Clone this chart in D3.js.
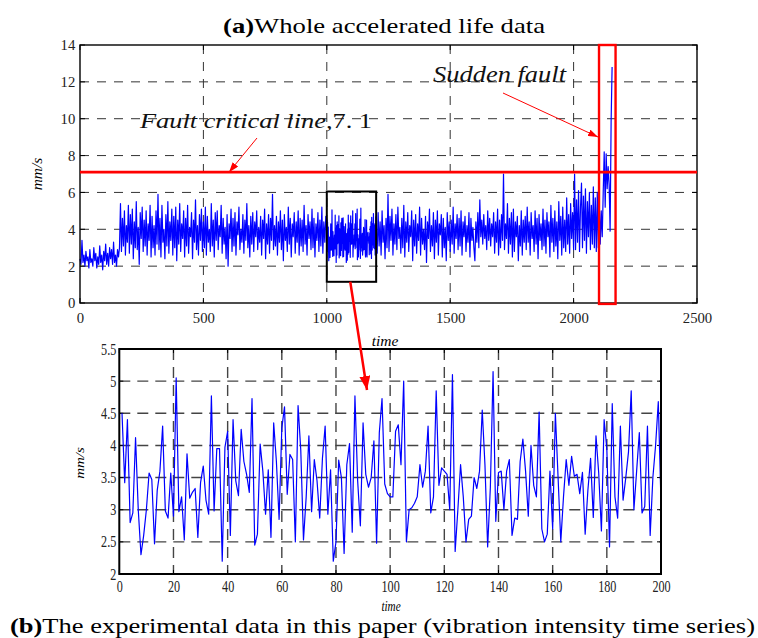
<!DOCTYPE html>
<html>
<head>
<meta charset="utf-8">
<script src="https://cdn.jsdelivr.net/npm/d3@7"></script>
<style>
html,body{margin:0;padding:0;background:#fff;}
svg{display:block;}
</style>
</head>
<body>
<script>
// ---------------- DATA ----------------
// Whole accelerated life data (panel a), every 4 time units
const wholeEarly = [ // t = 0 .. 996 step 4
  2.4,2.1,3.4,2.2,2.6,2.0,2.8,2.3,2.5,1.9,2.9,2.2,2.4,2.0,3.0,2.3,2.7,1.9,2.5,2.1,3.1,2.2,2.6,1.8,2.8,
  2.3,3.2,2.1,2.7,2.0,3.0,2.4,2.9,2.1,3.3,2.2,2.6,2.0,2.9,2.5,3.0,5.4,2.8,4.6,3.1,5.0,2.6,4.2,3.3,5.3,
  2.7,4.8,3.2,5.1,2.4,4.4,3.0,5.5,2.9,4.1,2.1,4.9,3.5,5.2,2.8,4.5,3.1,5.0,2.6,4.3,3.4,5.3,2.5,4.7,3.0,
  4.2,2.6,5.0,3.2,5.9,2.9,4.6,2.5,5.3,3.3,4.0,2.4,4.8,3.1,5.5,2.7,4.4,3.4,5.1,2.6,4.7,3.0,5.2,2.3,4.5,
  3.2,5.4,2.8,4.3,3.5,5.0,2.5,4.6,3.1,5.3,2.7,4.1,3.6,4.9,2.4,4.5,3.3,5.6,2.9,4.2,2.6,4.8,3.4,5.1,2.8,
  4.4,3.0,5.2,2.6,4.7,3.3,4.0,2.8,5.4,3.1,4.5,2.5,4.9,3.4,5.0,2.9,4.2,3.6,5.3,2.7,4.6,3.2,4.1,2.4,4.8,
  2.0,4.3,3.5,5.1,2.8,4.6,3.1,4.9,2.6,4.4,3.7,5.2,2.9,4.0,3.3,4.8,2.7,4.5,3.4,5.4,3.0,4.2,2.5,4.7,3.2,
  4.9,2.8,4.4,3.6,5.0,2.9,4.1,3.3,4.7,2.6,4.5,3.5,5.1,2.4,4.3,3.2,4.8,2.7,4.6,3.4,5.9,2.9,4.2,3.1,4.7,
  2.6,4.4,3.3,5.0,2.9,4.5,2.3,4.8,3.4,4.1,2.8,5.2,3.2,4.6,2.5,4.3,3.6,4.9,2.7,4.4,3.3,5.0,2.6,4.6,3.1,
  4.5,2.8,5.3,3.2,4.2,2.6,4.8,3.5,4.4,2.9,5.1,3.0,4.6,2.5,4.3,3.4,4.9,2.8,4.5,3.1,5.2,2.7,4.4,3.3,4.7
];
const wholeLate = [ // t = 1204 .. 2100 step 4
  2.7,4.9,3.1,4.4,2.6,5.0,3.3,4.2,2.4,4.6,3.0,5.9,2.8,4.7,3.4,5.1,2.6,4.3,3.2,4.8,2.9,5.2,3.5,4.1,2.7,
  4.6,3.0,5.3,2.5,4.4,3.3,4.9,2.8,4.2,3.6,5.0,2.3,4.5,3.1,4.8,2.7,4.3,3.4,5.2,2.6,4.6,3.2,4.0,2.9,4.7,
  2.2,4.4,3.5,5.1,2.8,4.2,3.1,4.9,2.4,4.5,3.3,5.0,2.6,4.3,3.7,4.8,2.5,4.6,3.0,4.1,2.3,4.9,3.4,4.4,2.8,
  4.5,3.2,5.2,2.7,4.3,3.5,4.8,2.9,4.6,3.1,5.0,2.6,4.4,3.6,4.7,2.8,4.2,3.3,4.9,2.5,4.6,3.4,4.1,3.0,2.3,
  4.4,3.3,4.9,3.0,5.6,3.6,4.5,3.2,4.8,3.5,4.2,2.9,5.0,3.4,4.6,3.1,4.3,3.6,4.9,2.7,4.4,3.3,5.1,2.6,4.5,
  3.0,4.8,3.4,7.0,2.9,4.3,3.5,5.4,2.7,4.6,3.2,4.9,2.5,5.1,2.8,4.4,3.6,4.7,2.3,4.2,3.1,5.0,2.6,4.5,3.3,
  4.7,2.9,5.2,3.3,4.4,2.6,4.9,3.5,4.2,2.8,5.0,3.2,4.6,2.4,4.8,3.4,4.3,2.9,5.1,3.1,4.5,2.7,4.9,3.6,4.4,
  2.5,5.3,3.3,4.6,2.8,5.0,3.1,4.4,2.4,5.5,3.4,4.7,2.6,5.2,3.0,4.5,2.8,5.7,3.2,4.8,2.7,5.4,3.5,4.9,2.9,
  7.0,2.9,5.6,3.3,6.1,2.8,5.2,6.5,3.0,5.8,3.4,6.2,2.7,5.5,3.6,6.0,2.9,5.3,3.2,6.3,3.0,5.7,2.8,6.0,3.0
];
const faultValues = [5.4,3.2,5.0,3.6,6.0,8.2,5.2,8.1,6.2,7.4,6.4,3.9,9.8,12.8]; // t = 2104 .. 2156 step 4

// Panel b: the 200-point excerpt (time 1..200, i.e. t = 1001..1200 of the whole series)
const detailValues = [
  4.5,3.42,4.4,2.8,2.95,4.12,3.0,2.3,2.6,3.0,
  3.57,3.47,2.47,3.3,3.6,4.3,2.98,2.87,3.57,2.9,
  5.05,2.97,3.2,2.53,3.87,3.18,3.27,3.33,2.57,3.42,
  3.68,3.15,2.93,4.77,2.98,3.95,3.95,2.2,3.97,4.22,
  2.6,4.4,3.45,3.22,4.25,3.75,3.55,3.27,4.73,2.45,
  2.62,4.02,3.6,2.93,3.62,2.57,4.35,3.75,2.85,4.27,
  4.6,3.24,3.86,3.78,2.5,4.62,3.93,2.53,3.2,4.15,
  2.97,3.78,3.45,2.87,3.8,4.3,2.93,3.62,2.2,2.5,
  3.77,3.5,2.32,3.7,4.03,2.65,4.77,3.45,2.75,4.35,
  3.55,3.35,3.5,4.07,2.48,4.2,4.73,3.4,3.25,3.2,
  3.2,4.22,4.32,3.7,5.0,2.5,3.0,3.03,3.1,3.2,
  3.7,3.35,3.6,4.3,2.95,3.2,4.85,3.38,3.65,3.6,
  3.55,3.0,5.1,2.35,3.0,3.7,3.2,2.5,2.85,2.9,
  3.5,3.33,3.6,4.55,3.7,2.42,3.35,5.15,2.82,3.58,
  3.6,3.0,3.6,3.78,2.6,2.87,2.85,3.75,4.1,3.6,
  2.9,4.0,3.38,3.2,4.52,2.7,2.5,2.62,3.6,2.7,
  4.5,3.5,2.5,3.2,3.78,3.38,3.83,3.52,3.55,3.25,
  3.58,2.62,3.3,3.8,2.88,4.15,3.57,2.67,4.4,3.95,
  2.42,4.65,3.2,2.87,4.3,3.15,3.5,3.9,4.85,3.0,
  3.6,4.2,2.95,3.05,4.3,2.6,3.5,4.0,4.68,3.1
];

const faultCritical = 7.1;
const zoomWindow = {t0: 1000, t1: 1200, v0: 1.15, v1: 6.05};
const faultWindow = {t0: 2103, t1: 2170, v0: -0.05, v1: 14};

const topXTicks = [0,500,1000,1500,2000,2500];
const topYTicks = [0,2,4,6,8,10,12,14];
const botXTicks = [0,20,40,60,80,100,120,140,160,180,200];
const botYTicks = [2,2.5,3,3.5,4,4.5,5,5.5];

const titleA = ["(a)", "Whole accelerated life data"];
const titleB = ["(b)", "The experimental data in this paper (vibration intensity time series)"];
const xLabel = "time", yLabel = "mm/s";
const faultLabel = ["Fault critical line,", "7. 1"];
const suddenLabel = "Sudden fault";

// ------------- BUILD SERIES -------------
const wholeSeries = [];
wholeEarly.forEach((v,i) => wholeSeries.push([i*4, v]));
detailValues.forEach((v,i) => wholeSeries.push([1001+i, v]));
wholeLate.forEach((v,i) => wholeSeries.push([1204+i*4, v]));
faultValues.forEach((v,i) => wholeSeries.push([2104+i*4, v]));
const detailSeries = detailValues.map((v,i) => [i+1, v]);

// ------------- DRAW -------------
const W = 758, H = 638;
const SERIF = "Liberation Serif, Times New Roman, DejaVu Serif, serif";
const svg = d3.select("body").append("svg").attr("width", W).attr("height", H)
  .style("font-family", SERIF);
svg.append("rect").attr("width", W).attr("height", H).attr("fill", "#fff");

const defs = svg.append("defs");
function marker(id, len, wid) {
  defs.append("marker").attr("id", id).attr("markerUnits", "userSpaceOnUse")
    .attr("markerWidth", len).attr("markerHeight", wid)
    .attr("refX", len).attr("refY", wid/2).attr("orient", "auto")
    .append("path").attr("d", `M0,0L${len},${wid/2}L0,${wid}Z`).attr("fill", "#ff0000");
}
marker("arrS", 10, 7);
marker("arrB", 14, 11);

function panel(cfg) {
  const x = d3.scaleLinear().domain(cfg.xDomain).range([cfg.left, cfg.right]);
  const y = d3.scaleLinear().domain(cfg.yDomain).range([cfg.bottom, cfg.top]);
  const g = svg.append("g");
  g.append("g").selectAll("line").data(cfg.xTicks.slice(1, -1)).join("line")
    .attr("x1", d => x(d)).attr("x2", d => x(d)).attr("y1", cfg.top).attr("y2", cfg.bottom)
    .attr("stroke", cfg.gridColor).attr("stroke-width", cfg.gridWidth).attr("stroke-dasharray", cfg.dash);
  g.append("g").selectAll("line").data(cfg.yTicks.slice(1, -1)).join("line")
    .attr("y1", d => y(d)).attr("y2", d => y(d)).attr("x1", cfg.left).attr("x2", cfg.right)
    .attr("stroke", cfg.gridColor).attr("stroke-width", cfg.gridWidth).attr("stroke-dasharray", cfg.dash);
  const tk = cfg.tickLen;
  const tg = g.append("g").attr("stroke", "#000").attr("stroke-width", 1);
  cfg.xTicks.forEach(d => {
    tg.append("line").attr("x1", x(d)).attr("x2", x(d)).attr("y1", cfg.bottom).attr("y2", cfg.bottom - tk);
    tg.append("line").attr("x1", x(d)).attr("x2", x(d)).attr("y1", cfg.top).attr("y2", cfg.top + tk);
  });
  cfg.yTicks.forEach(d => {
    tg.append("line").attr("y1", y(d)).attr("y2", y(d)).attr("x1", cfg.left).attr("x2", cfg.left + tk);
    tg.append("line").attr("y1", y(d)).attr("y2", y(d)).attr("x1", cfg.right).attr("x2", cfg.right - tk);
  });
  g.append("path").datum(cfg.series)
    .attr("d", d3.line().x(d => x(d[0])).y(d => y(d[1])))
    .attr("fill", "none").attr("stroke", "#0000ff").attr("stroke-width", cfg.lineWidth)
    .attr("stroke-linejoin", "round");
  g.append("rect").attr("x", cfg.left).attr("y", cfg.top)
    .attr("width", cfg.right - cfg.left).attr("height", cfg.bottom - cfg.top)
    .attr("fill", "none").attr("stroke", "#000").attr("stroke-width", cfg.frameWidth);
  const fmt = d3.format("~g");
  const ax = g.append("g").attr("transform", `translate(0,${cfg.bottom})`)
    .call(d3.axisBottom(x).tickValues(cfg.xTicks).tickSize(0).tickPadding(cfg.xPad).tickFormat(fmt));
  const ay = g.append("g").attr("transform", `translate(${cfg.left},0)`)
    .call(d3.axisLeft(y).tickValues(cfg.yTicks).tickSize(0).tickPadding(cfg.yPad).tickFormat(fmt));
  [ax, ay].forEach(a => {
    a.attr("font-family", null).attr("font-size", null);
    a.select(".domain").remove();
    a.selectAll("text").style("font-family", SERIF).attr("font-size", cfg.tickFont).attr("fill", "#222")
      .attr("transform", cfg.textScale ? `scale(${cfg.textScale},1)` : null);
  });
  return {x, y, g};
}

// Panel (a)
const A = panel({
  left: 80, right: 697, top: 45, bottom: 303,
  xDomain: [0, 2500], yDomain: [0, 14], xTicks: topXTicks, yTicks: topYTicks,
  series: wholeSeries, lineWidth: 1.2, frameWidth: 1.4, tickLen: 5,
  gridColor: "#333", gridWidth: 1, dash: "9,8",
  tickFont: 15.5, xPad: 9, yPad: 5, textScale: 0.95
});
svg.append("line").attr("x1", A.x(0)).attr("x2", A.x(2500))
  .attr("y1", A.y(faultCritical)).attr("y2", A.y(faultCritical))
  .attr("stroke", "#ff0000").attr("stroke-width", 2.6);
svg.append("rect").attr("x", A.x(zoomWindow.t0)).attr("y", A.y(zoomWindow.v1))
  .attr("width", A.x(zoomWindow.t1) - A.x(zoomWindow.t0))
  .attr("height", A.y(zoomWindow.v0) - A.y(zoomWindow.v1))
  .attr("fill", "none").attr("stroke", "#000").attr("stroke-width", 2);
svg.append("rect").attr("x", A.x(faultWindow.t0)).attr("y", A.y(faultWindow.v1))
  .attr("width", A.x(faultWindow.t1) - A.x(faultWindow.t0))
  .attr("height", A.y(faultWindow.v0) - A.y(faultWindow.v1))
  .attr("fill", "none").attr("stroke", "#ff0000").attr("stroke-width", 2.4);

const tA = svg.append("text").attr("x", 223).attr("y", 33).attr("font-size", 21)
  .attr("textLength", 322).attr("lengthAdjust", "spacingAndGlyphs").attr("fill", "#000");
tA.append("tspan").attr("font-weight", "bold").text(titleA[0]);
tA.append("tspan").text(titleA[1]);
svg.append("text").attr("x", 385).attr("y", 346).attr("text-anchor", "middle")
  .attr("font-size", 15.5).attr("font-style", "italic").text(xLabel);
svg.append("text").attr("transform", "translate(42,174) rotate(-90)").attr("text-anchor", "middle")
  .attr("font-size", 15.5).attr("font-style", "italic").text(yLabel);

const fl = svg.append("text").attr("x", 140).attr("y", 128).attr("font-size", 22).attr("fill", "#111")
  .attr("textLength", 232).attr("lengthAdjust", "spacingAndGlyphs");
fl.append("tspan").attr("font-style", "italic").text(faultLabel[0]);
fl.append("tspan").text(faultLabel[1]);
svg.append("line").attr("x1", 257).attr("y1", 138).attr("x2", 229).attr("y2", A.y(faultCritical))
  .attr("stroke", "#ff0000").attr("stroke-width", 1).attr("marker-end", "url(#arrS)");
svg.append("text").attr("x", 433).attr("y", 82).attr("font-size", 24).attr("font-style", "italic")
  .attr("fill", "#111").attr("textLength", 133).attr("lengthAdjust", "spacingAndGlyphs").text(suddenLabel);
svg.append("line").attr("x1", 503).attr("y1", 93).attr("x2", A.x(faultWindow.t0) - 1).attr("y2", 137)
  .attr("stroke", "#ff0000").attr("stroke-width", 1).attr("marker-end", "url(#arrS)");

// Panel (b)
const B = panel({
  left: 119.3, right: 661, top: 349, bottom: 574,
  xDomain: [0, 200], yDomain: [2, 5.5], xTicks: botXTicks, yTicks: botYTicks,
  series: detailSeries, lineWidth: 1.2, frameWidth: 2, tickLen: 4,
  gridColor: "#444", gridWidth: 1.4, dash: "11,7",
  tickFont: 16, xPad: 7, yPad: 4, textScale: 0.76
});
svg.append("text").attr("transform", "translate(391,611) scale(0.8,1)").attr("text-anchor", "middle")
  .attr("font-size", 14).attr("font-style", "italic").text(xLabel);
svg.append("text").attr("transform", "translate(84,463) rotate(-90) scale(1,0.8)").attr("text-anchor", "middle")
  .attr("font-size", 15).attr("font-style", "italic").text(yLabel);
const tB = svg.append("text").attr("x", 10).attr("y", 633).attr("font-size", 22)
  .attr("textLength", 745).attr("lengthAdjust", "spacingAndGlyphs").attr("fill", "#000");
tB.append("tspan").attr("font-weight", "bold").text(titleB[0]);
tB.append("tspan").text(titleB[1]);

svg.append("line").attr("x1", A.x(1095)).attr("y1", A.y(zoomWindow.v0))
  .attr("x2", 367).attr("y2", 390)
  .attr("stroke", "#ff0000").attr("stroke-width", 2.5).attr("marker-end", "url(#arrB)");
</script>
</body>
</html>
